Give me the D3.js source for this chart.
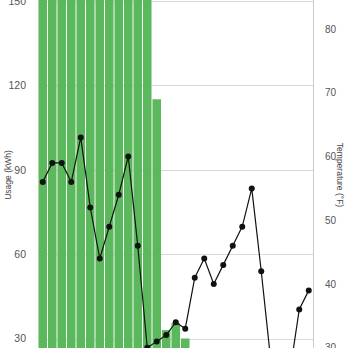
<!DOCTYPE html>
<html><head><meta charset="utf-8">
<script src="https://cdn.jsdelivr.net/npm/d3@7"></script>
<style>
html,body{margin:0;padding:0;background:#fff;overflow:hidden;}
svg{display:block;font-family:"Liberation Sans",Arial,Helvetica,sans-serif;}
</style></head>
<body>
<svg id="chart" width="348" height="348"></svg>
<script>
// Data (index = period)
const periods = d3.range(29).map(i => "P" + (i + 1));
const usage = [168, 172, 165, 170, 175, 162, 158, 166, 171, 169, 163, 160, 115, 33, 35.5, 30, 20, 18, 17, 16, 15, 14, 14, 15, 16, 17, 18, 19, 20];
const temperature = [56, 59, 59, 56, 63, 52, 44, 49, 54, 60, 46, 30, 31, 32, 34, 33, 41, 44, 40, 43, 46, 49, 55, 42, 28, 24, 26, 36, 39];
const usageTicks = [30, 60, 90, 120, 150];
const tempTicks = [30, 40, 50, 60, 70, 80];

const svg = d3.select("#chart");
const left = 38, right = 313.5;

const x = d3.scaleBand().domain(periods).range([left, right]).paddingInner(0.1).paddingOuter(0.05);
const yU = d3.scaleLinear().domain([30, 150]).range([338.5, 0.8]);
const yT = d3.scaleLinear().domain([30, 80]).range([347.75, 29]);

const defs = svg.append("defs");
defs.append("clipPath").attr("id", "plotclip").append("rect")
  .attr("x", left).attr("y", 0).attr("width", right - left).attr("height", 348);

// gridlines
svg.append("g").selectAll("line").data(usageTicks).join("line")
  .attr("x1", left).attr("x2", right)
  .attr("y1", d => Math.round(yU(d)) + 0.5).attr("y2", d => Math.round(yU(d)) + 0.5)
  .attr("stroke", "#d9d9d9").attr("stroke-width", 1);

// right axis line
svg.append("line").attr("x1", 313.5).attr("x2", 313.5).attr("y1", 0).attr("y2", 348)
  .attr("stroke", "#cccccc").attr("stroke-width", 1);

// bars
svg.append("g").attr("clip-path", "url(#plotclip)").selectAll("rect").data(usage).join("rect")
  .attr("x", (d, i) => x(periods[i]))
  .attr("width", x.bandwidth())
  .attr("y", d => yU(d))
  .attr("height", d => yU(0) - yU(d))
  .attr("fill", "#5cb85c");

// line
const line = d3.line().x((d, i) => x(periods[i]) + x.bandwidth() / 2).y(d => yT(d));
svg.append("path").datum(temperature).attr("d", line)
  .attr("fill", "none").attr("stroke", "#111").attr("stroke-width", 1.2);
svg.append("g").selectAll("circle").data(temperature).join("circle")
  .attr("cx", (d, i) => x(periods[i]) + x.bandwidth() / 2)
  .attr("cy", d => yT(d)).attr("r", 3).attr("fill", "#111");

// left axis
const gL = svg.append("g").attr("transform", "translate(26,0)")
  .call(d3.axisLeft(yU).tickValues(usageTicks).tickSize(0).tickPadding(0));
gL.select(".domain").remove();
gL.selectAll("text").attr("font-size", 10.5).attr("fill", "#555").attr("font-family", "Liberation Sans, Arial, sans-serif");

// right axis
const gR = svg.append("g").attr("transform", "translate(325,0)")
  .call(d3.axisRight(yT).tickValues(tempTicks).tickSize(0).tickPadding(0));
gR.select(".domain").remove();
gR.selectAll("text").attr("font-size", 10).attr("fill", "#555").attr("font-family", "Liberation Sans, Arial, sans-serif");

// axis titles
svg.append("text").attr("transform", "translate(11,175) rotate(-90)")
  .attr("text-anchor", "middle").attr("font-size", 8.5).attr("fill", "#444").text("Usage (kWh)");
svg.append("text").attr("transform", "translate(337,175) rotate(90)")
  .attr("text-anchor", "middle").attr("font-size", 8.5).attr("fill", "#444").text("Temperature (°F)");
</script>
</body></html>
